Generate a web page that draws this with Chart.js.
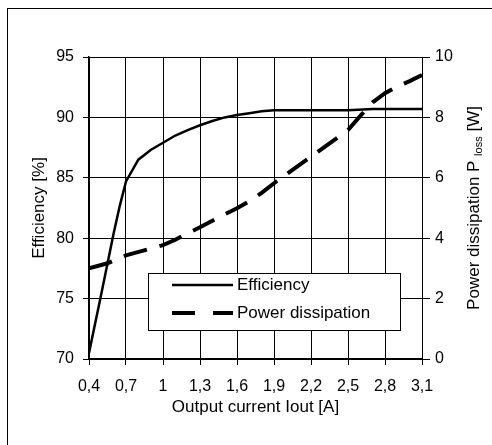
<!DOCTYPE html>
<html>
<head>
<meta charset="utf-8">
<script src="https://cdn.jsdelivr.net/npm/chart.js"></script>
<style>
  body { margin: 0; background: #fff; }
  canvas { display: block; }
</style>
</head>
<body>
<canvas id="efficiency-chart" width="492" height="445"></canvas>
<script>
const currentTicks = [0.4, 0.7, 1, 1.3, 1.6, 1.9, 2.2, 2.5, 2.8, 3.1];
const efficiencyTicks = [70, 75, 80, 85, 90, 95];
const lossTicks = [0, 2, 4, 6, 8, 10];

const efficiencyCurrent = [0.4, 0.5, 0.6, 0.65, 0.7, 0.8, 0.9, 1.0, 1.1, 1.2, 1.3, 1.4, 1.5, 1.6, 1.7, 1.8, 1.9, 2.5, 2.7, 3.1];
const efficiencyValues = [70.5, 75.4, 80.4, 82.7, 84.7, 86.5, 87.3, 87.9, 88.5, 88.95, 89.35, 89.7, 90.0, 90.2, 90.35, 90.5, 90.6, 90.6, 90.7, 90.7];

const lossCurrent = [0.4, 0.55, 0.7, 1.0, 1.1, 1.2, 1.3, 1.4, 1.5, 1.6, 1.7, 1.8, 1.9, 2.2, 2.5, 2.6, 2.7, 2.8, 2.9, 3.0, 3.1];
const lossValues = [3.0, 3.17, 3.43, 3.77, 3.95, 4.16, 4.36, 4.58, 4.79, 4.99, 5.22, 5.5, 5.82, 6.7, 7.58, 8.05, 8.5, 8.8, 9.03, 9.2, 9.4];

const fontFamily = '"Liberation Sans", Arial, sans-serif';
const tickFont = { family: fontFamily, size: 16 };
const titleFont = { family: fontFamily, size: 17 };

const toPoints = (xs, ys) => xs.map((x, i) => ({ x: x, y: ys[i] }));
const setTicks = (values) => (scale) => { scale.ticks = values.map(v => ({ value: v })); };

// outer frame, only top and left edges are inside the picture
const frame = {
    id: 'frame',
    beforeDraw(chart) {
        const ctx = chart.ctx;
        ctx.save();
        ctx.fillStyle = '#fff';
        ctx.fillRect(0, 0, chart.width, chart.height);
        ctx.strokeStyle = '#000';
        ctx.lineWidth = 1;
        ctx.strokeRect(7.5, 8.5, chart.width + 20, chart.height + 20);
        ctx.restore();
    }
};

// boxed legend inside the plot
const boxLegend = {
    id: 'boxLegend',
    afterDatasetsDraw(chart) {
        const ctx = chart.ctx;
        const area = chart.chartArea;
        const bx = area.left + 59, by = area.top + 216, bw = 252, bh = 57;
        ctx.save();
        ctx.fillStyle = '#fff';
        ctx.fillRect(bx, by, bw, bh);
        ctx.strokeStyle = '#000';
        ctx.lineWidth = 1;
        ctx.strokeRect(bx + 0.5, by + 0.5, bw, bh);
        ctx.font = '17px ' + fontFamily;
        ctx.textBaseline = 'middle';
        chart.data.datasets.forEach((ds, i) => {
            const y = by + 12 + i * 28;
            ctx.beginPath();
            ctx.strokeStyle = ds.borderColor;
            ctx.lineWidth = ds.borderWidth;
            ctx.setLineDash(i === 0 ? [] : [23, 18]);
            ctx.moveTo(bx + 24, y);
            ctx.lineTo(bx + 85, y);
            ctx.stroke();
            ctx.setLineDash([]);
            ctx.fillStyle = '#000';
            ctx.fillText(ds.label, bx + 89, y);
        });
        ctx.restore();
    }
};

// right axis title with subscript, reading bottom to top
const rightTitle = {
    id: 'rightTitle',
    afterDraw(chart) {
        const ctx = chart.ctx;
        const area = chart.chartArea;
        const parts = [
            { text: 'Power dissipation P ', size: 17, shift: 0 },
            { text: 'loss', size: 11, shift: 3 },
            { text: ' [W]', size: 17, shift: 0 }
        ];
        ctx.save();
        let total = 0;
        parts.forEach(p => {
            ctx.font = p.size + 'px ' + fontFamily;
            p.width = ctx.measureText(p.text).width;
            total += p.width;
        });
        ctx.translate(479, (area.top + area.bottom) / 2);
        ctx.rotate(-Math.PI / 2);
        ctx.fillStyle = '#000';
        ctx.textBaseline = 'alphabetic';
        let x = -total / 2;
        parts.forEach(p => {
            ctx.font = p.size + 'px ' + fontFamily;
            ctx.fillText(p.text, x, p.shift);
            x += p.width;
        });
        ctx.restore();
    }
};

const chartEfficiency = new Chart(document.getElementById('efficiency-chart').getContext('2d'), {
    type: 'line',
    data: {
        datasets: [
            {
                label: 'Efficiency',
                data: toPoints(efficiencyCurrent, efficiencyValues),
                borderColor: '#000',
                borderWidth: 2.5,
                pointRadius: 0,
                tension: 0,
                yAxisID: 'y'
            },
            {
                label: 'Power dissipation',
                data: toPoints(lossCurrent, lossValues),
                borderColor: '#000',
                borderWidth: 4,
                borderDash: [24, 13],
                pointRadius: 0,
                tension: 0,
                yAxisID: 'y1'
            }
        ]
    },
    options: {
        responsive: false,
        animation: false,
        layout: { padding: { top: 57, left: 0, right: 0, bottom: 0 } },
        plugins: {
            legend: { display: false },
            tooltip: { enabled: false }
        },
        scales: {
            x: {
                type: 'linear',
                min: currentTicks[0],
                max: currentTicks[currentTicks.length - 1],
                afterBuildTicks: setTicks(currentTicks),
                afterFit: (scale) => { scale.height = 86; },
                grid: { color: '#000', lineWidth: 1, tickLength: 6 },
                border: { color: '#000', width: 2 },
                ticks: {
                    color: '#000',
                    font: tickFont,
                    padding: 12,
                    maxRotation: 0,
                    autoSkip: false,
                    callback: (value) => String(value).replace('.', ',')
                },
                title: {
                    display: true,
                    text: 'Output current Iout [A]',
                    color: '#000',
                    font: titleFont,
                    padding: { top: 0, bottom: 27 }
                }
            },
            y: {
                position: 'left',
                min: efficiencyTicks[0],
                max: efficiencyTicks[efficiencyTicks.length - 1],
                afterBuildTicks: setTicks(efficiencyTicks),
                afterFit: (scale) => { scale.width = 89; },
                grid: { color: '#000', lineWidth: 1, tickLength: 6 },
                border: { color: '#000', width: 1.5 },
                ticks: { color: '#000', font: tickFont, padding: 9 },
                title: {
                    display: true,
                    text: 'Efficiency [%]',
                    color: '#000',
                    font: titleFont,
                    padding: { top: 29, bottom: 0 }
                }
            },
            y1: {
                position: 'right',
                min: lossTicks[0],
                max: lossTicks[lossTicks.length - 1],
                afterBuildTicks: setTicks(lossTicks),
                afterFit: (scale) => { scale.width = 70; },
                grid: { drawOnChartArea: false, color: '#000', lineWidth: 1, tickLength: 8 },
                border: { color: '#000', width: 1 },
                ticks: { color: '#000', font: tickFont, padding: 5 }
            }
        }
    },
    plugins: [frame, boxLegend, rightTitle]
});
</script>
</body>
</html>
